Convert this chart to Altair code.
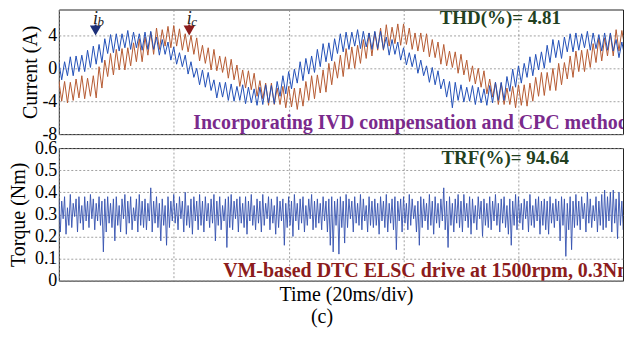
import altair as alt
import pandas as pd

# ---------------- data ----------------
STEP_MS = 1.0  # one ripple tooth per ms (time axis in ms, 20 ms/div)

IB_HI = [0.7, 0.8, 1.4, 1.5, 1.6, 2.2, 2.7, 2.9, 3.6, 4.1,
         4.2, 4.2, 4.6, 4.4, 4.2, 4.4, 4.5, 3.8, 3.5, 3.2,
         2.6, 1.9, 1.6, 0.8, 0.0, -0.2, -0.5, -1.4, -1.7, -1.7,
         -1.9, -2.2, -2.0, -2.3, -2.5, -2.3, -2.0, -2.1, -1.6, -0.9,
         -0.4, -0.1, 0.8, 1.2, 1.5, 2.3, 3.0, 3.1, 3.6, 4.2,
         4.4, 4.4, 4.7, 4.5, 4.3, 4.5, 4.5, 3.8, 3.5, 3.2,
         2.5, 1.9, 1.7, 1.0, 0.3, 0.1, -0.3, -1.3, -1.6, -1.7,
         -2.0, -2.3, -2.1, -2.3, -2.5, -2.1, -1.7, -1.7, -1.0, -0.1,
         0.3, 0.6, 1.4, 1.7, 2.0, 2.8, 3.5, 3.4, 3.8, 4.2,
         4.3, 4.2, 4.5, 4.3, 4.1, 4.3, 4.3, 3.5, 3.2, 3.0]

IB_LO = [-1.4, -0.9, -0.9, -0.4, -0.4, 0.1, 0.5, 0.7, 1.8, 1.9,
         2.1, 2.5, 2.3, 2.5, 2.2, 2.3, 2.3, 1.6, 1.7, 1.0,
         0.5, 0.2, -0.7, -1.1, -2.0, -2.3, -2.7, -3.6, -3.5, -3.9,
         -4.0, -3.9, -4.3, -4.2, -4.5, -4.4, -4.2, -4.3, -3.4, -3.1,
         -2.5, -1.8, -1.5, -0.7, -0.5, 0.2, 0.8, 0.9, 1.8, 2.0,
         2.3, 2.7, 2.4, 2.6, 2.3, 2.4, 2.3, 1.6, 1.7, 1.0,
         0.4, 0.2, -0.6, -0.9, -1.7, -2.0, -2.5, -3.5, -4.8, -3.9,
         -4.1, -4.0, -4.4, -4.2, -4.5, -4.2, -3.9, -3.9, -2.8, -2.3,
         -1.8, -1.1, -0.9, -0.2, 0.0, 0.7, 1.3, 1.2, 2.0, 2.0,
         2.2, 2.5, 2.2, 2.4, 2.1, 2.2, 2.1, 1.3, 1.4, 0.8]

IC_HI = [-1.5, -1.6, -1.7, -1.3, -0.9, -1.2, -0.9, 0.2, 1.0, 1.8,
         2.3, 2.4, 2.5, 3.1, 3.6, 3.8, 4.4, 4.9, 4.7, 5.1,
         5.2, 4.8, 4.2, 4.0, 3.7, 2.8, 2.5, 2.3, 1.5, 1.4,
         1.1, 0.4, -0.2, -0.3, -0.6, -1.5, -1.8, -1.8, -2.4, -2.2,
         -2.2, -2.4, -2.4, -1.6, -0.9, -0.8, -0.2, 0.6, 0.8, 1.6,
         2.4, 2.6, 2.8, 3.5, 4.3, 4.4, 4.9, 5.3, 5.0, 5.4,
         5.4, 4.9, 4.3, 4.3, 4.2, 3.5, 3.2, 2.9, 2.1, 2.0,
         1.7, 1.0, 0.3, 0.0, -0.3, -1.3, -1.7, -1.8, -2.4, -2.2,
         -2.0, -2.0, -1.8, -1.1, -0.5, -0.5, 0.0, 0.6, 0.7, 1.5,
         2.1, 2.2, 2.3, 3.0, 3.7, 3.7, 4.2, 4.7, 4.6, 5.1]

IC_LO = [-4.0, -4.2, -3.9, -3.6, -3.7, -3.4, -3.6, -2.4, -1.0, -0.8,
         -0.2, -0.2, 0.3, 0.8, 0.8, 1.6, 1.7, 2.3, 2.7, 2.5,
         2.7, 2.2, 2.0, 1.7, 0.9, 0.6, -0.2, -0.3, -0.5, -1.2,
         -1.4, -2.2, -2.4, -2.6, -3.4, -3.7, -4.5, -4.4, -4.4, -4.8,
         -4.7, -5.0, -4.6, -3.9, -3.7, -3.0, -2.9, -2.0, -1.2, -1.0,
         -0.1, 0.0, 0.6, 1.2, 1.5, 2.2, 2.2, 2.7, 3.0, 2.8,
         2.9, 2.3, 2.1, 2.0, 1.4, 1.3, 0.5, 0.3, 0.1, -0.6,
         -0.8, -1.6, -1.9, -2.3, -3.1, -3.5, -4.4, -4.4, -4.4, -4.8,
         -4.5, -4.6, -4.0, -3.4, -3.3, -2.7, -2.7, -2.0, -1.3, -1.1,
         -0.4, -0.4, 0.1, 0.7, 0.9, 1.5, 1.5, 2.1, 2.6, 2.5]

TQ_STEP_MS = 0.25
TORQUE = [
    0.37, 0.22, 0.36, 0.28, 0.38, 0.21, 0.33, 0.25, 0.39, 0.24, 0.35, 0.29, 0.37, 0.22, 0.38, 0.26, 0.34, 0.23, 0.38, 0.27,
    0.36, 0.24, 0.39, 0.28, 0.37, 0.23, 0.35, 0.27, 0.38, 0.25, 0.36, 0.13, 0.37, 0.22, 0.38, 0.26, 0.35, 0.24, 0.37, 0.18,
    0.38, 0.25, 0.34, 0.22, 0.37, 0.28, 0.39, 0.21, 0.36, 0.26, 0.38, 0.23, 0.33, 0.27, 0.37, 0.22, 0.39, 0.25, 0.36, 0.24,
    0.37, 0.23, 0.35, 0.27, 0.42, 0.22, 0.36, 0.26, 0.38, 0.24, 0.35, 0.18, 0.37, 0.25, 0.34, 0.16, 0.38, 0.24, 0.36, 0.27,
    0.39, 0.26, 0.35, 0.23, 0.38, 0.28, 0.36, 0.22, 0.40, 0.25, 0.34, 0.24, 0.37, 0.21, 0.38, 0.27, 0.36, 0.23, 0.39, 0.25,
    0.36, 0.22, 0.38, 0.27, 0.35, 0.24, 0.37, 0.26, 0.39, 0.18, 0.36, 0.25, 0.38, 0.23, 0.34, 0.27, 0.37, 0.15, 0.38, 0.24,
    0.39, 0.23, 0.36, 0.28, 0.37, 0.22, 0.38, 0.26, 0.35, 0.24, 0.38, 0.21, 0.36, 0.27, 0.39, 0.25, 0.34, 0.23, 0.37, 0.26,
    0.36, 0.22, 0.39, 0.25, 0.35, 0.28, 0.38, 0.23, 0.37, 0.26, 0.34, 0.21, 0.38, 0.24, 0.36, 0.27, 0.37, 0.16, 0.35, 0.24,
    0.38, 0.25, 0.36, 0.20, 0.39, 0.27, 0.35, 0.23, 0.37, 0.26, 0.38, 0.22, 0.34, 0.25, 0.37, 0.28, 0.39, 0.23, 0.36, 0.24,
    0.37, 0.26, 0.35, 0.23, 0.38, 0.27, 0.36, 0.22, 0.37, 0.16, 0.38, 0.13, 0.36, 0.25, 0.37, 0.12, 0.38, 0.24, 0.36, 0.17,
    0.39, 0.24, 0.37, 0.28, 0.36, 0.22, 0.38, 0.26, 0.35, 0.25, 0.39, 0.23, 0.37, 0.27, 0.34, 0.22, 0.38, 0.25, 0.36, 0.24,
    0.37, 0.25, 0.35, 0.21, 0.38, 0.27, 0.36, 0.24, 0.39, 0.22, 0.35, 0.26, 0.37, 0.23, 0.38, 0.14, 0.36, 0.27, 0.37, 0.22,
    0.38, 0.26, 0.35, 0.23, 0.39, 0.25, 0.37, 0.28, 0.34, 0.22, 0.36, 0.16, 0.38, 0.24, 0.37, 0.27, 0.35, 0.23, 0.39, 0.25,
    0.36, 0.21, 0.38, 0.26, 0.35, 0.24, 0.37, 0.27, 0.42, 0.23, 0.36, 0.15, 0.38, 0.25, 0.35, 0.22, 0.37, 0.26, 0.39, 0.24,
    0.36, 0.22, 0.39, 0.27, 0.35, 0.24, 0.38, 0.21, 0.37, 0.26, 0.34, 0.23, 0.38, 0.28, 0.36, 0.20, 0.37, 0.25, 0.35, 0.24,
    0.38, 0.23, 0.36, 0.27, 0.39, 0.25, 0.35, 0.22, 0.37, 0.26, 0.38, 0.24, 0.34, 0.21, 0.37, 0.16, 0.36, 0.25, 0.39, 0.23,
    0.38, 0.26, 0.35, 0.23, 0.37, 0.28, 0.36, 0.22, 0.39, 0.25, 0.34, 0.24, 0.37, 0.27, 0.38, 0.21, 0.36, 0.25, 0.37, 0.23,
    0.36, 0.21, 0.38, 0.26, 0.35, 0.24, 0.37, 0.27, 0.36, 0.18, 0.38, 0.25, 0.37, 0.11, 0.35, 0.23, 0.38, 0.14, 0.36, 0.24,
    0.39, 0.25, 0.36, 0.23, 0.38, 0.28, 0.35, 0.22, 0.40, 0.26, 0.37, 0.24, 0.34, 0.27, 0.38, 0.22, 0.36, 0.25, 0.39, 0.23,
    0.41, 0.24, 0.38, 0.27, 0.40, 0.22, 0.41, 0.26, 0.37, 0.19, 0.40, 0.25, 0.36, 0.23, 0.41, 0.16, 0.38, 0.26, 0.40, 0.24,
    0.37]

X_GRID = [0, 20, 40, 60, 80]
X_SHOWN = [0, 98.2]   # the picture is cut off just before the 100 ms line
CUR_TICKS = [-8, -4, 0, 4]
TQ_TICKS = [0, 0.1, 0.2, 0.3, 0.4, 0.5, 0.6]

THD_TEXT = "THD(%)= 4.81"
TRF_TEXT = "TRF(%)= 94.64"
NOTE1 = "Incorporating IVD compensation and CPC methods"
NOTE2 = "VM-based DTC ELSC drive at 1500rpm, 0.3Nm"

# ---------------- styling ----------------
SERIF = "Liberation Serif"
BLUE = "#2350b8"
BROWN = "#b65a32"
NAVY = "#1c2f78"
DARKRED = "#8c1c1c"
GREEN = "#223f20"
PURPLE = "#7a2a8c"
W = 566
H1 = 125
H2 = 133


def zigzag(hi, lo, name):
    rows = []
    for k, (h, l) in enumerate(zip(hi, lo)):
        rows.append({"t": k * STEP_MS, "v": h, "s": name})
        rows.append({"t": k * STEP_MS + STEP_MS / 2, "v": l, "s": name})
    return pd.DataFrame(rows)


df_ib = zigzag(IB_HI, IB_LO, "ib")
df_ic = zigzag(IC_HI, IC_LO, "ic")
df_tq = pd.DataFrame({"t": [i * TQ_STEP_MS for i in range(len(TORQUE))], "v": TORQUE})

x_scale = alt.Scale(domain=X_SHOWN, nice=False)
x_axis_top = alt.Axis(values=X_GRID, labels=False, ticks=False, domain=False, title=None)
x_axis_bot = alt.Axis(values=X_GRID, labels=False, ticks=False, domain=False,
                      title="Time (20ms/div)", titlePadding=4, titleX=288)

y_cur = alt.Scale(domain=[-8, 7.15], nice=False)
y_tq = alt.Scale(domain=[0, 0.6], nice=False)

y_axis_cur = alt.Axis(values=CUR_TICKS, title="Current (A)", labelExpr="'' + datum.value",
                      titleX=-18, labelOverlap=False)
y_axis_tq = alt.Axis(values=TQ_TICKS, title="Torque (Nm)",
                     labelExpr="format(datum.value, '.1~f')", titleX=-30,
                     labelOverlap=False, tickCount=7)

X_TOP = alt.X("t:Q", scale=x_scale, axis=x_axis_top)
X_BOT = alt.X("t:Q", scale=x_scale, axis=x_axis_bot)
Y_CUR = alt.Y("v:Q", scale=y_cur, axis=y_axis_cur)
Y_TQ = alt.Y("v:Q", scale=y_tq, axis=y_axis_tq)

# current panel
ic_line = alt.Chart(df_ic).mark_line(color=BROWN, strokeWidth=1, clip=True).encode(
    x=X_TOP, y=Y_CUR)
ib_line = alt.Chart(df_ib).mark_line(color=BLUE, strokeWidth=1, clip=True).encode(
    x=X_TOP, y=Y_CUR)

arrows = pd.DataFrame({
    "t": [6.4, 22.7],
    "tip": [4.6, 4.6],
    "s0": [5.33, 5.33],
    "s1": [4.97, 4.97],
    "lab": [5.42, 5.42],
    "sub": ["b", "c"],
    "col": [NAVY, DARKRED],
})
stem = alt.Chart(arrows).mark_rule(strokeWidth=2, clip=True).encode(
    x=alt.X("t:Q", scale=x_scale, axis=x_axis_top),
    y=alt.Y("s0:Q", scale=y_cur, axis=y_axis_cur), y2="s1:Q",
    color=alt.Color("col:N", scale=None),
)
head = alt.Chart(arrows).mark_point(shape="triangle-down", filled=True, size=130,
                                    opacity=1, clip=True).encode(
    x=alt.X("t:Q", scale=x_scale, axis=x_axis_top),
    y=alt.Y("tip:Q", scale=y_cur, axis=y_axis_cur),
    color=alt.Color("col:N", scale=None),
)
lab_i = alt.Chart(arrows).mark_text(text="i", font=SERIF, fontStyle="italic", fontSize=18,
                                    align="center", baseline="alphabetic", clip=True,
                                    color="#222").encode(
    x=alt.X("t:Q", scale=x_scale, axis=x_axis_top),
    y=alt.Y("lab:Q", scale=y_cur, axis=y_axis_cur),
)
lab_sub = alt.Chart(arrows).mark_text(font=SERIF, fontStyle="italic", fontSize=13,
                                      align="left", baseline="alphabetic", dx=2, dy=2,
                                      clip=True, color="#222").encode(
    x=alt.X("t:Q", scale=x_scale, axis=x_axis_top),
    y=alt.Y("lab:Q", scale=y_cur, axis=y_axis_cur), text="sub:N",
)

txt1 = pd.DataFrame({"t": [66.3, 23.4], "v": [5.33, -7.39], "txt": [THD_TEXT, NOTE1],
                     "col": [GREEN, PURPLE]})
thd = alt.Chart(txt1.iloc[[0]]).mark_text(font=SERIF, fontWeight="bold", fontSize=19,
                                          align="left", baseline="alphabetic", clip=True).encode(
    x=X_TOP, y=Y_CUR, text="txt:N", color=alt.Color("col:N", scale=None))
note1 = alt.Chart(txt1.iloc[[1]]).mark_text(font=SERIF, fontWeight="bold", fontSize=20,
                                            align="left", baseline="alphabetic", clip=True).encode(
    x=X_TOP, y=Y_CUR, text="txt:N", color=alt.Color("col:N", scale=None))

top = alt.layer(ic_line, ib_line, stem, head, lab_i, lab_sub, thd, note1).properties(
    width=W, height=H1)

# torque panel
tq_line = alt.Chart(df_tq).mark_line(color="#3552b0", strokeWidth=0.9, clip=True).encode(
    x=X_BOT, y=Y_TQ)
txt2 = pd.DataFrame({"t": [66.6, 28.6], "v": [0.528, 0.018], "txt": [TRF_TEXT, NOTE2],
                     "col": [GREEN, DARKRED]})
trf = alt.Chart(txt2.iloc[[0]]).mark_text(font=SERIF, fontWeight="bold", fontSize=19,
                                          align="left", baseline="alphabetic", clip=True).encode(
    x=X_BOT, y=Y_TQ, text="txt:N", color=alt.Color("col:N", scale=None))
note2 = alt.Chart(txt2.iloc[[1]]).mark_text(font=SERIF, fontWeight="bold", fontSize=20,
                                            align="left", baseline="alphabetic", clip=True).encode(
    x=X_BOT, y=Y_TQ, text="txt:N", color=alt.Color("col:N", scale=None))
sub_c = alt.Chart(pd.DataFrame({"c": ["(c)"]})).mark_text(
    font=SERIF, fontSize=20, align="center", baseline="middle", color="black").encode(
    text="c:N", x=alt.value(264), y=alt.value(170))

bottom = alt.layer(tq_line, trf, note2, sub_c).properties(width=W, height=H2)

chart = alt.vconcat(top, bottom, spacing=14, bounds="flush").properties(
    padding=0
).configure_view(
    stroke="#222", strokeWidth=1
).configure_axis(
    labelFont=SERIF, titleFont=SERIF, labelFontSize=18, titleFontSize=20,
    labelColor="black", titleColor="black", titleFontWeight="normal",
    domain=False, ticks=False, labelPadding=2,
    grid=True, gridColor="#8a8a8a", gridDash=[2, 2], gridWidth=0.8,
)

chart.save("out.html", embed_options={"renderer": "svg", "actions": False})
